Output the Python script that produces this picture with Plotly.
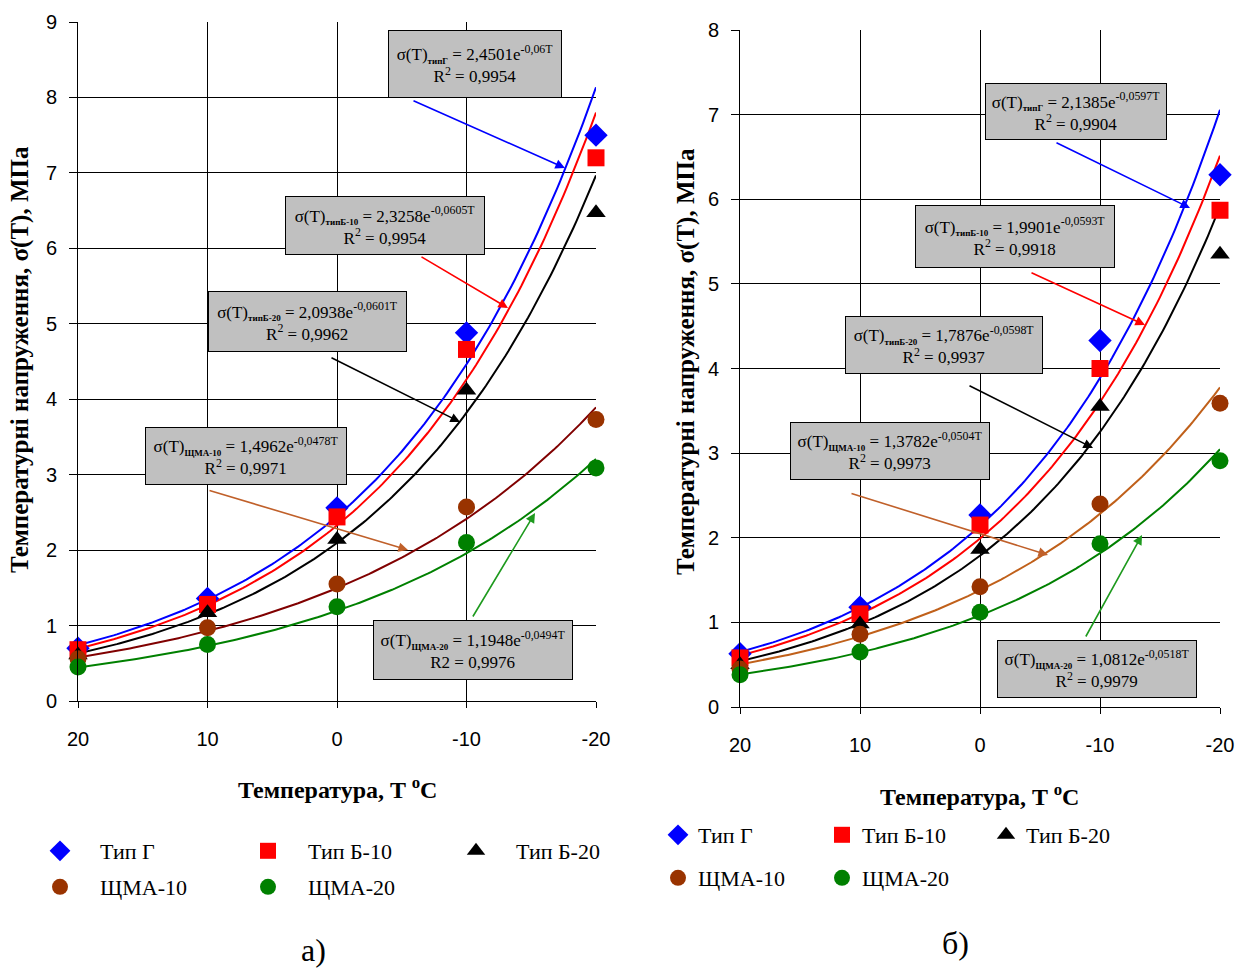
import numpy as np
import plotly.graph_objects as go

# ---------------- data ----------------
T = [20, 10, 0, -10, -20]
x_ticktext = ["20", "10", "0", "-10", "-20"]
names = ["Тип Г", "Тип Б-10", "Тип Б-20", "ЩМА-10", "ЩМА-20"]
subs = ["типГ", "типБ-10", "типБ-20", "ЩМА-10", "ЩМА-20"]

# chart a)
a_tipG = [0.70, 1.36, 2.56, 4.88, 7.50]
a_tipB10 = [0.68, 1.28, 2.44, 4.66, 7.20]
a_tipB20 = [0.61, 1.17, 2.14, 4.12, 6.47]
a_shma10 = [0.56, 0.97, 1.55, 2.57, 3.73]
a_shma20 = [0.45, 0.75, 1.25, 2.10, 3.09]
a_A = [2.4501, 2.3258, 2.0938, 1.4962, 1.1948]
a_k = ["-0,06", "-0,0605", "-0,0601", "-0,0478", "-0,0494"]
a_r2 = ["0,9954", "0,9954", "0,9962", "0,9971", "0,9976"]
a_r2lab = ["R<sup>2</sup>", "R<sup>2</sup>", "R<sup>2</sup>", "R<sup>2</sup>", "R2"]

# chart б)
b_tipG = [0.63, 1.18, 2.27, 4.33, 6.29]
b_tipB10 = [0.58, 1.10, 2.15, 4.00, 5.87]
b_tipB20 = [0.50, 0.98, 1.86, 3.55, 5.35]
b_shma10 = [0.45, 0.86, 1.42, 2.40, 3.59]
b_shma20 = [0.38, 0.65, 1.12, 1.93, 2.91]
b_A = [2.1385, 1.9901, 1.7876, 1.3782, 1.0812]
b_k = ["-0,0597", "-0,0593", "-0,0598", "-0,0504", "-0,0518"]
b_r2 = ["0,9904", "0,9918", "0,9937", "0,9973", "0,9979"]
b_r2lab = ["R<sup>2</sup>"] * 5

# ---------------- style ----------------
W, H = 1242, 970
serif = "Liberation Serif"
sans = "Liberation Sans"
mcolors = ["#0000FF", "#FF0000", "#000000", "#993300", "#008000"]
a_lcolors = ["#0000FF", "#FF0000", "#000000", "#800000", "#008000"]
b_lcolors = ["#0000FF", "#FF0000", "#000000", "#C0601A", "#008000"]
arrow_colors = ["#0000FF", "#FF0000", "#000000", "#C0602A", "#1E9A1E"]
symbols = ["diamond", "square", "triangle-up", "circle", "circle"]
msizes = [18, 17, 17, 17, 17]


def px(x):
    return x / W


def py(y):
    return 1 - y / H


fig = go.Figure()

a_series = [a_tipG, a_tipB10, a_tipB20, a_shma10, a_shma20]
b_series = [b_tipG, b_tipB10, b_tipB20, b_shma10, b_shma20]
tt = np.linspace(20, -20, 161)


def kval(s):
    return float(s.replace(",", "."))


for panel, (series, As, ks, lcol, xa, ya) in enumerate([
        (a_series, a_A, a_k, a_lcolors, "x", "y"),
        (b_series, b_A, b_k, b_lcolors, "x2", "y2")]):
    # trend lines
    for i in range(5):
        fig.add_trace(go.Scatter(
            x=tt, y=As[i] * np.exp(kval(ks[i]) * tt), mode="lines",
            line=dict(color=lcol[i], width=2), showlegend=False,
            xaxis=xa, yaxis=ya, hoverinfo="skip"))
    # points
    for i in range(5):
        if panel == 0:
            lg = "legend" if i < 3 else "legend2"
        else:
            lg = "legend3" if i < 3 else "legend4"
        fig.add_trace(go.Scatter(
            x=T, y=series[i], mode="markers", name=names[i],
            marker=dict(symbol=symbols[i], size=msizes[i], color=mcolors[i],
                        line=dict(width=0)),
            cliponaxis=False, xaxis=xa, yaxis=ya, legend=lg))

axis_common = dict(showgrid=True, gridcolor="black", gridwidth=1,
                   showline=True, linecolor="black", linewidth=1,
                   zeroline=False, ticks="outside", tickcolor="black",
                   automargin=False,
                   tickfont=dict(family=sans, size=20, color="black"))

fig.update_layout(
    width=W, height=H, margin=dict(l=0, r=0, t=0, b=0, autoexpand=False),
    paper_bgcolor="white", plot_bgcolor="white",
    xaxis=dict(domain=[px(78), px(596)], range=[20, -20], tickvals=T,
               ticktext=x_ticktext, anchor="y", ticklen=6,
               ticklabelstandoff=14, **axis_common),
    yaxis=dict(domain=[py(701), py(22)], range=[0, 9], dtick=1, anchor="x",
               ticklen=8, ticklabelstandoff=8, **axis_common),
    xaxis2=dict(domain=[px(740), px(1220)], range=[20, -20], tickvals=T,
                ticktext=x_ticktext, anchor="y2", ticklen=6,
                ticklabelstandoff=14, **axis_common),
    yaxis2=dict(domain=[py(707), py(30)], range=[0, 8], dtick=1, anchor="x2",
                ticklen=8, ticklabelstandoff=8, **axis_common),
    showlegend=True,
)

leg_font = dict(family=serif, size=22, color="black")
leg_common = dict(xanchor="left", yanchor="middle", orientation="h",
                  entrywidthmode="pixels", font=leg_font,
                  bgcolor="rgba(0,0,0,0)", xref="container", yref="container")
fig.update_layout(
    legend=dict(x=px(20), y=py(851), entrywidth=123, itemwidth=70, **leg_common),
    legend2=dict(x=px(20), y=py(887), entrywidth=123, itemwidth=70, **leg_common),
    legend3=dict(x=px(658), y=py(835), entrywidth=119, itemwidth=30, **leg_common),
    legend4=dict(x=px(658), y=py(878), entrywidth=119, itemwidth=30, **leg_common),
)

ann = []
C = dict(xref="paper", yref="paper", xanchor="center", yanchor="middle",
         showarrow=False)
# axis titles
ytitle = "<b>Температурні напруження, σ(T), МПа</b>"
xtitle = "<b>Температура, T <sup>o</sup>C</b>"
title_font = dict(family=serif, size=25, color="black")
xtitle_font = dict(family=serif, size=24, color="black")
ann.append(dict(x=px(20), y=py(360), text=ytitle, textangle=-90,
                font=title_font, **C))
ann.append(dict(x=px(686), y=py(362), text=ytitle, textangle=-90,
                font=title_font, **C))
ann.append(dict(x=px(337), y=py(788), text=xtitle, font=xtitle_font, **C))
ann.append(dict(x=px(980), y=py(795), text=xtitle, font=xtitle_font, **C))
# captions
cap_font = dict(family=serif, size=32, color="black")
ann.append(dict(x=px(313), y=py(950), text="а)", font=cap_font, **C))
ann.append(dict(x=px(955), y=py(943), text="б)", font=cap_font, **C))

# equation boxes (layout positions in pixels: x0, y0, x1, y1)
a_boxes = [(388, 30, 562, 98), (285, 196, 485, 255), (208, 291, 407, 352),
           (145, 427, 347, 485), (373, 620, 573, 680)]
b_boxes = [(985, 83, 1167, 140), (915, 205, 1115, 268), (845, 316, 1043, 374),
           (790, 422, 990, 480), (997, 640, 1197, 698)]
# arrows (tail x, tail y, head x, head y) in pixels
a_arrows = [(412, 100, 565, 168), (420, 256, 508, 308), (330, 357, 460, 422),
            (208, 490, 408, 550), (472, 618, 535, 513)]
b_arrows = [(1055, 142, 1190, 208), (1030, 272, 1145, 325),
            (968, 385, 1093, 448), (850, 493, 1048, 555),
            (1085, 638, 1142, 535)]

box_font = dict(family=serif, size=17, color="black")
for As, ks, r2, r2lab, boxes, arrows in [
        (a_A, a_k, a_r2, a_r2lab, a_boxes, a_arrows),
        (b_A, b_k, b_r2, b_r2lab, b_boxes, b_arrows)]:
    for i in range(5):
        x0, y0, x1, y1 = boxes[i]
        A_txt = str(As[i]).replace(".", ",")
        txt = ("σ(T)<sub><b><span style='font-size:9px'>%s</span></b></sub>"
               " = %se<sup>%sT</sup><br>%s = %s" % (subs[i], A_txt, ks[i],
                                                    r2lab[i], r2[i]))
        ann.append(dict(x=px((x0 + x1) / 2), y=py((y0 + y1) / 2), text=txt,
                        font=box_font, bgcolor="#C0C0C0", bordercolor="black",
                        borderwidth=1, borderpad=0,
                        width=x1 - x0 - 2, height=y1 - y0 - 2, align="center",
                        **C))
        tx, ty, hx, hy = arrows[i]
        ann.append(dict(x=px(hx), y=py(hy), xref="paper", yref="paper",
                        text="", showarrow=True, ax=tx - hx, ay=ty - hy,
                        axref="pixel", ayref="pixel",
                        arrowhead=2, arrowsize=1.2, arrowwidth=1.6,
                        arrowcolor=arrow_colors[i], standoff=0,
                        startstandoff=0))

fig.update_layout(annotations=ann)
fig.write_html("out.html", config={"displayModeBar": False},
               post_script="document.body.style.margin='0';"
                           "document.body.style.overflow='hidden';")
